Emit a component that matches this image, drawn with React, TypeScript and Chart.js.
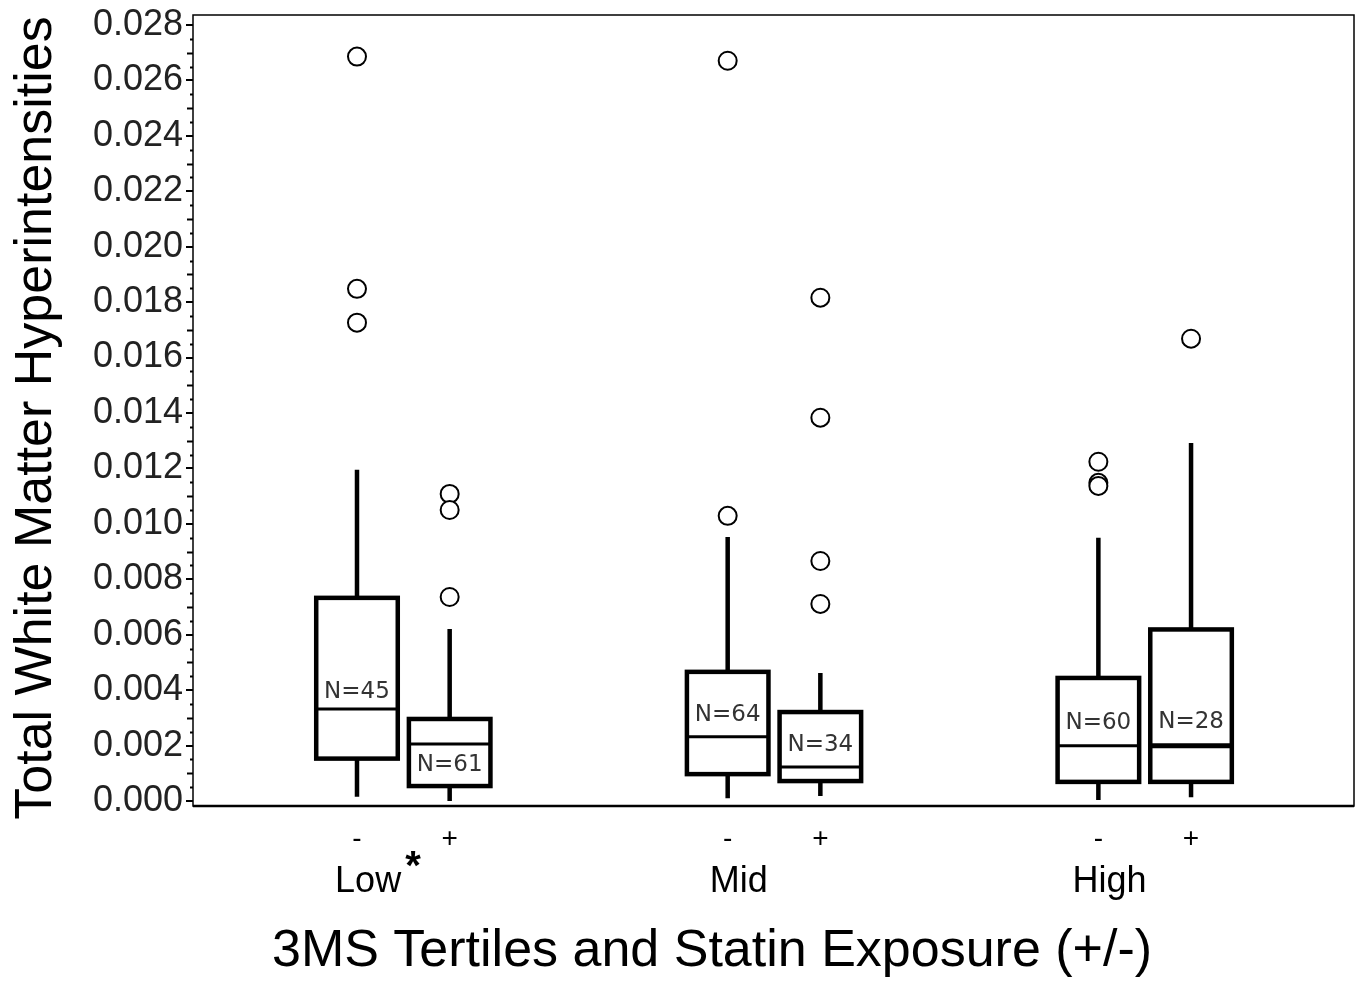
import React, { useEffect, useRef } from 'react';
import { Chart, registerables } from 'chart.js';

Chart.register(...registerables);

// ---------- data ----------
const tertiles = ['Low', 'Mid', 'High'];
const statinLabels = ['-', '+'];
// boxes in order: Low-, Low+, Mid-, Mid+, High-, High+
const boxTertile = [0, 0, 1, 1, 2, 2];
const boxStatin = [0, 1, 0, 1, 0, 1];
const whiskerMin = [0.00015, 0.0, 0.0001, 0.00018, 0.00004, 0.00014];
const q1 = [0.00153, 0.00054, 0.00097, 0.00072, 0.00069, 0.00069];
const median = [0.00332, 0.00206, 0.00232, 0.00123, 0.00199, 0.00199];
const q3 = [0.00733, 0.00296, 0.00466, 0.00321, 0.00444, 0.00619];
const whiskerMax = [0.01195, 0.00621, 0.00953, 0.00462, 0.0095, 0.01292];
const outliers: number[][] = [
  [0.02686, 0.01848, 0.01726],
  [0.01108, 0.0105, 0.00736],
  [0.02671, 0.01029],
  [0.01816, 0.01383, 0.00866, 0.00711],
  [0.01224, 0.01148, 0.01137],
  [0.01668],
];
const nCounts = [45, 61, 64, 34, 60, 28];
const nLabelY = [0.00395, 0.0013, 0.0031, 0.00202, 0.00282, 0.00285];
const yTicks = [0, 0.002, 0.004, 0.006, 0.008, 0.01, 0.012, 0.014, 0.016, 0.018, 0.02, 0.022, 0.024, 0.026, 0.028];
const xTitle = '3MS Tertiles and Statin Exposure (+/-)';
const yTitle = 'Total White Matter Hyperintensities';
const significantTertile = 0;

// ---------- helpers ----------
const boxPos = (i: number) => boxTertile[i] + 1 + (boxStatin[i] === 0 ? -0.125 : 0.125);

const boxPlugin = {
  id: 'boxPlugin',
  beforeDatasetsDraw(chart: any) {
    const { ctx, chartArea } = chart;
    const xs = chart.scales.x;
    const ys = chart.scales.y;
    ctx.save();
    // frame
    ctx.strokeStyle = '#000';
    ctx.lineWidth = 1.5;
    ctx.strokeRect(chartArea.left, chartArea.top, chartArea.right - chartArea.left, chartArea.bottom - chartArea.top);
    ctx.lineWidth = 2.5;
    ctx.beginPath();
    ctx.moveTo(chartArea.left, chartArea.bottom);
    ctx.lineTo(chartArea.right, chartArea.bottom);
    ctx.stroke();
    // minor ticks
    ctx.lineWidth = 2;
    for (let k = 0; k <= 56; k++) {
      if (k % 4 === 0) continue;
      const y = Math.round(ys.getPixelForValue(k * 0.0005)) + 0.5;
      const len = k % 2 === 0 ? 5 : 2;
      ctx.beginPath();
      ctx.moveTo(chartArea.left - len - 1, y);
      ctx.lineTo(chartArea.left, y);
      ctx.stroke();
    }
    // boxes
    ctx.lineJoin = 'miter';
    ctx.lineCap = 'butt';
    for (let i = 0; i < q1.length; i++) {
      const p = boxPos(i);
      const cx = xs.getPixelForValue(p);
      const hw = xs.getPixelForValue(p + 0.11) - cx;
      const yMin = ys.getPixelForValue(whiskerMin[i]);
      const yQ1 = ys.getPixelForValue(q1[i]);
      const yMed = ys.getPixelForValue(median[i]);
      const yQ3 = ys.getPixelForValue(q3[i]);
      const yMax = ys.getPixelForValue(whiskerMax[i]);
      ctx.strokeStyle = '#000';
      ctx.lineWidth = 4.5;
      ctx.beginPath();
      ctx.moveTo(cx, yMax);
      ctx.lineTo(cx, yQ3);
      ctx.moveTo(cx, yQ1);
      ctx.lineTo(cx, yMin);
      ctx.stroke();
      ctx.strokeRect(cx - hw, yQ3, 2 * hw, yQ1 - yQ3);
      ctx.lineWidth = i === 5 ? 5 : 3;
      ctx.beginPath();
      ctx.moveTo(cx - hw, yMed);
      ctx.lineTo(cx + hw, yMed);
      ctx.stroke();
      // N label
      ctx.fillStyle = '#333';
      ctx.font = '23px "DejaVu Sans"';
      ctx.textAlign = 'center';
      ctx.textBaseline = 'middle';
      ctx.fillText('N=' + nCounts[i], cx, ys.getPixelForValue(nLabelY[i]));
    }
    ctx.restore();
  },
  afterDraw(chart: any) {
    const { ctx } = chart;
    const xs = chart.scales.x;
    ctx.save();
    ctx.fillStyle = '#000';
    ctx.textAlign = 'center';
    ctx.textBaseline = 'middle';
    // statin +/- labels
    ctx.font = '28px "Liberation Sans"';
    for (let i = 0; i < q1.length; i++) {
      ctx.fillText(statinLabels[boxStatin[i]], xs.getPixelForValue(boxPos(i)), 839);
    }
    // tertile labels
    ctx.font = '36px "Liberation Sans"';
    for (let g = 0; g < tertiles.length; g++) {
      const x = xs.getPixelForValue(g + 1 - 0.095);
      ctx.fillText(tertiles[g], x, 882);
      if (g === significantTertile) {
        const w = ctx.measureText(tertiles[g]).width;
        ctx.save();
        ctx.font = 'bold 40px "Liberation Sans"';
        ctx.textAlign = 'left';
        ctx.fillText('*', x + w / 2 + 4, 868);
        ctx.restore();
      }
    }
    // x title
    ctx.font = '52px "Liberation Sans"';
    ctx.fillText(xTitle, 712, 952);
    // y title
    ctx.translate(37, 418);
    ctx.rotate(-Math.PI / 2);
    ctx.fillText(yTitle, 0, 0);
    ctx.restore();
  },
};

export default function App() {
  const canvasRef = useRef<HTMLCanvasElement | null>(null);

  useEffect(() => {
    document.body.style.margin = '0';
    const canvas = canvasRef.current;
    if (!canvas) return;
    const points: { x: number; y: number }[] = [];
    outliers.forEach((arr, i) => arr.forEach((v) => points.push({ x: boxPos(i), y: v })));

    const chart = new Chart(canvas, {
      type: 'scatter',
      data: {
        datasets: [
          {
            label: 'outliers',
            data: points,
            pointRadius: 9,
            pointBorderWidth: 2,
            pointBackgroundColor: '#fff',
            pointBorderColor: '#000',
            showLine: false,
          },
        ],
      },
      options: {
        responsive: false,
        animation: false,
        events: [],
        layout: { padding: { top: 15, right: 10, bottom: 180, left: 0 } },
        plugins: {
          legend: { display: false },
          tooltip: { enabled: false },
        },
        scales: {
          x: {
            type: 'linear',
            display: false,
            min: 0.4326,
            max: 3.5646,
          },
          y: {
            type: 'linear',
            min: -0.00018,
            max: 0.02836,
            afterFit: (scale: any) => {
              scale.width = 193;
              scale.paddingTop = 0;
              scale.paddingBottom = 0;
            },
            afterBuildTicks: (scale: any) => {
              scale.ticks = yTicks.map((v) => ({ value: v }));
            },
            border: { display: false },
            grid: {
              drawOnChartArea: false,
              drawTicks: true,
              tickLength: 7,
              color: '#000',
              lineWidth: 2,
            },
            ticks: {
              color: '#222',
              padding: 3,
              font: { family: '"Liberation Sans"', size: 36 },
              callback: (v: any) => Number(v).toFixed(3),
            },
          },
        },
      },
      plugins: [boxPlugin],
    });
    return () => chart.destroy();
  }, []);

  return (
    <div style={{ width: 1365, height: 986, position: 'relative', background: '#fff' }}>
      <canvas ref={canvasRef} width={1365} height={986} style={{ display: 'block' }} />
    </div>
  );
}
